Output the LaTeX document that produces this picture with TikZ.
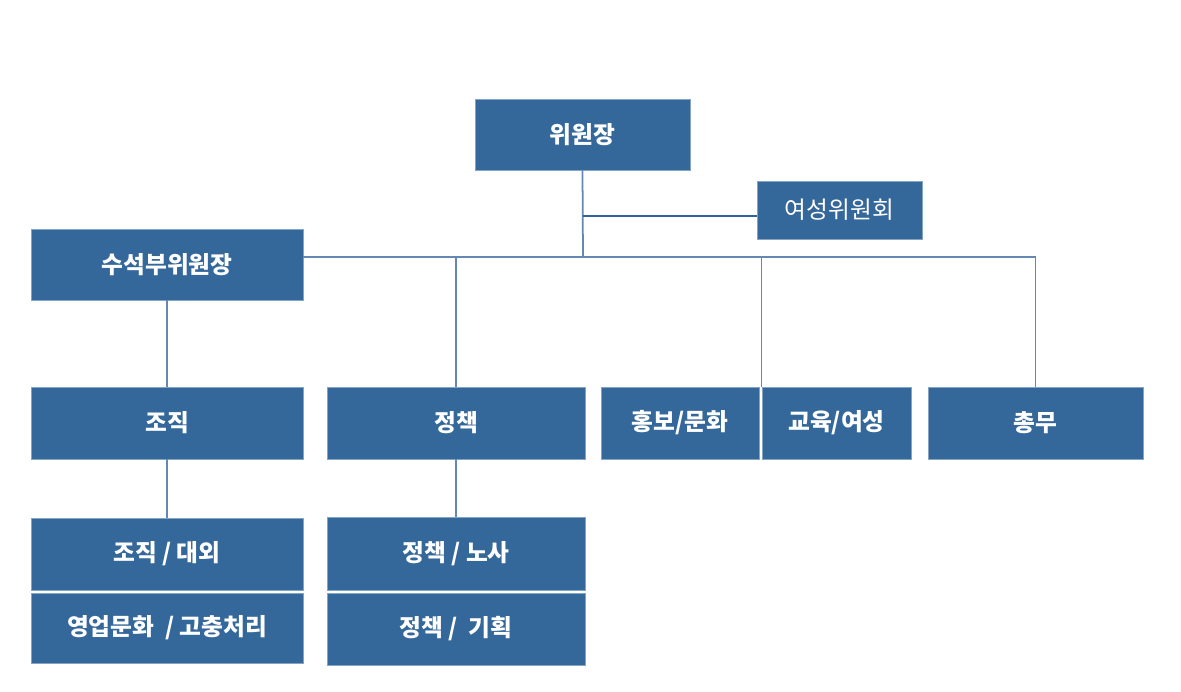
\documentclass[tikz,border=0pt]{standalone}
\usepackage{fontspec}
\setmainfont{Noto Sans CJK KR}
\usepackage{tikz}
\usepackage{xcolor}
\usetikzlibrary{positioning,calc}

\definecolor{boxblue}{RGB}{52,103,154}
\definecolor{lineblue}{RGB}{100,136,180}
\definecolor{linedark}{RGB}{46,99,160}

\tikzset{
    unit/.style={draw=boxblue!60!white, line width=0.5pt, fill=boxblue, text=white,
        font=\fontsize{13.5pt}{16pt}\selectfont\bfseries, inner sep=0pt},
    link/.style={draw=lineblue, line width=1pt}
}

\begin{document}
\begin{tikzpicture}[x=0.02cm, y=-0.02cm]
    \useasboundingbox (0, 0) rectangle (1181, 692);
    % top
    \node[unit, minimum width=4.3cm, minimum height=1.42cm] (chair) at (582.5, 134.5) {위원장};
    \node[unit, minimum width=3.3cm, minimum height=1.16cm, font=\fontsize{13.5pt}{16pt}\selectfont] (women) at (839.5, 210) {여성위원회};
    \node[unit, minimum width=5.44cm, minimum height=1.42cm] (vice) at (167, 264.5) {수석부위원장};
    % departments
    \node[unit, minimum width=5.44cm, minimum height=1.44cm] (org) at (167, 423) {조직};
    \node[unit, minimum width=5.16cm, minimum height=1.44cm] (policy) at (456, 423) {정책};
    \node[unit, minimum width=3.16cm, minimum height=1.44cm] (pr) at (680, 423) {홍보/문화};
    \node[unit, minimum width=2.98cm, minimum height=1.44cm] (edu) at (836.5, 423) {교육/여성};
    \node[unit, minimum width=4.3cm, minimum height=1.44cm] (admin) at (1035.5, 423) {총무};
    % teams
    \node[unit, minimum width=5.44cm, minimum height=1.44cm] (orgext) at (167, 554) {조직 / 대외};
    \node[unit, minimum width=5.44cm, minimum height=1.40cm] (orgcult) at (167, 628) {영업문화~ / 고충처리};
    \node[unit, minimum width=5.16cm, minimum height=1.46cm] (pollab) at (456, 553.5) {정책 / 노사};
    \node[unit, minimum width=5.16cm, minimum height=1.44cm] (polplan) at (456, 629) {정책 /~ 기획};

    \coordinate (bus) at (583, 257);
    \draw[link] (chair.south) -- (bus);
    \draw[link, draw=linedark] (chair.south |- 0, 216) -- (women.west |- 0, 216);
    \draw[link] (vice.east |- bus) -| (admin.north);
    \draw[link] (bus -| policy.north) -- (policy.north);
    \draw[link] (bus -| edu.north west) -- (edu.north west);
    \draw[link] (vice.south) -- (org.north);
    \draw[link] (org.south) -- (orgext.north);
    \draw[link] (policy.south) -- (pollab.north);
\end{tikzpicture}
\end{document}
